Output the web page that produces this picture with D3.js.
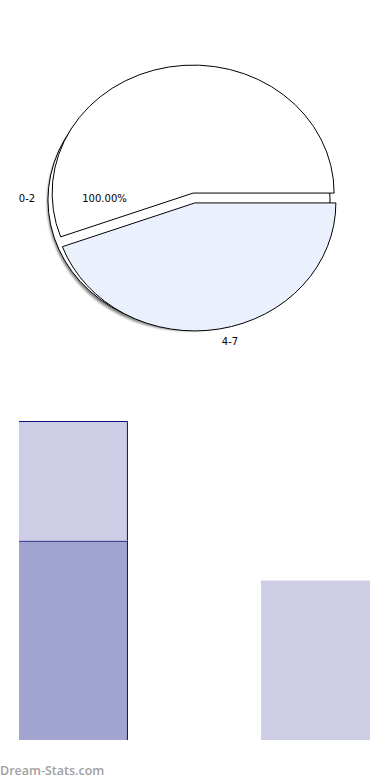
<!DOCTYPE html>
<html>
<head>
<meta charset="utf-8">
<script src="https://cdn.jsdelivr.net/npm/d3@7"></script>
<style>
  body { margin: 0; background: #fff; }
  svg { display: block; }
</style>
</head>
<body>
<script>
// pie data (first slice starts at 3 o'clock, goes clockwise)
var pieLabels = ["4-7", "0-2"];
var pieValues = [4, 5];
var pieColors = ["#eaf1fd", "#ffffff"];

// stacked bars
var barCategories = ["0-2", "4-7"];
var lowerValues = [5, 0];
var upperValues = [3, 4];

var w = 390, h = 780;

var svg = d3.select("body").append("svg")
    .attr("width", w)
    .attr("height", h);

var defs = svg.append("defs");
defs.append("filter").attr("id", "blur")
    .attr("x", "-10%").attr("y", "-10%").attr("width", "120%").attr("height", "120%")
  .append("feGaussianBlur").attr("stdDeviation", 0.9);

// ---- pie ----
var cx = 194, cy = 198, rx = 141, ry = 128;
var explode = 5;

var pie = d3.pie().sort(null)
    .startAngle(Math.PI / 2)
    .endAngle(Math.PI / 2 + 2 * Math.PI);

var arcs = pie(pieValues);
var arc = d3.arc().innerRadius(0).outerRadius(rx);
var full = d3.arc().innerRadius(0).outerRadius(rx).startAngle(0).endAngle(2 * Math.PI);

// shadow
svg.append("path")
    .attr("d", full())
    .attr("transform", "translate(" + (cx - 6) + "," + (cy + 4.5) + ") scale(1," + (ry + 0.5) / rx + ")")
    .attr("fill", "#888")
    .attr("filter", "url(#blur)");

// back disc
svg.append("path")
    .attr("d", full())
    .attr("transform", "translate(" + (cx - 5) + "," + (cy + 2) + ") scale(1," + ry / rx + ")")
    .attr("fill", "#fff")
    .attr("stroke", "#000")
    .attr("stroke-width", 1)
    .attr("vector-effect", "non-scaling-stroke");

svg.selectAll("path.slice")
    .data(arcs)
    .enter()
    .append("path")
    .attr("class", "slice")
    .attr("d", arc)
    .attr("transform", function(d) {
        var a = (d.startAngle + d.endAngle) / 2;
        var x = cx + Math.sin(a) * explode;
        var y = cy - Math.cos(a) * explode;
        return "translate(" + x + "," + y + ") scale(1," + ry / rx + ")";
    })
    .attr("fill", function(d, i) { return pieColors[i]; })
    .attr("stroke", "#000")
    .attr("stroke-width", 1)
    .attr("stroke-linejoin", "miter")
    .attr("vector-effect", "non-scaling-stroke");

var lab = svg.append("g")
    .attr("font-family", "DejaVu Sans, sans-serif")
    .attr("font-size", "10px")
    .attr("fill", "#000");

lab.append("text").attr("x", 27).attr("y", 202).attr("text-anchor", "middle").text(pieLabels[1]);
lab.append("text").attr("x", 104.5).attr("y", 202).attr("text-anchor", "middle").text("100.00%");
lab.append("text").attr("x", 230).attr("y", 345).attr("text-anchor", "middle").text(pieLabels[0]);

// ---- bars ----
var x = d3.scaleBand()
    .domain(barCategories)
    .range([19, 370])
    .paddingInner(0.55)
    .paddingOuter(0);

var y = d3.scaleLinear()
    .domain([0, 8])
    .range([740, 421]);

var rows = barCategories.map(function(c, i) {
    return { cat: c, lower: lowerValues[i], upper: upperValues[i] };
});
var stack = d3.stack().keys(["lower", "upper"])(rows);
var barColors = ["#a3a5d1", "#cdcde5"];

var layers = svg.selectAll("g.layer")
    .data(stack)
    .enter()
    .append("g")
    .attr("class", "layer")
    .attr("fill", function(d, i) { return barColors[i]; });

layers.selectAll("rect")
    .data(function(d) { return d; })
    .enter()
    .append("rect")
    .attr("x", function(d) { return x(d.data.cat); })
    .attr("y", function(d) { return y(d[1]); })
    .attr("width", x.bandwidth())
    .attr("height", function(d) { return y(d[0]) - y(d[1]); });

// navy outline on the first category (top + right of each segment)
layers.each(function(s) {
    var d = s[0];
    if (d[1] - d[0] <= 0) return;
    var g = d3.select(this);
    var x0 = x(d.data.cat), x1 = x0 + x.bandwidth();
    g.append("path")
        .attr("d", "M" + x0 + "," + (y(d[1]) + 0.5) + "H" + (x1 - 0.5) + "V" + y(d[0]))
        .attr("fill", "none")
        .attr("stroke", "#10107a")
        .attr("stroke-width", 1);
});

// watermark
svg.append("text")
    .attr("x", 0)
    .attr("y", 775)
    .attr("font-family", "Open Sans, sans-serif")
    .attr("font-size", "12.5px")
    .attr("font-weight", 600)
    .attr("fill", "#a0a0a0")
    .text("Dream-Stats.com");
</script>
</body>
</html>
